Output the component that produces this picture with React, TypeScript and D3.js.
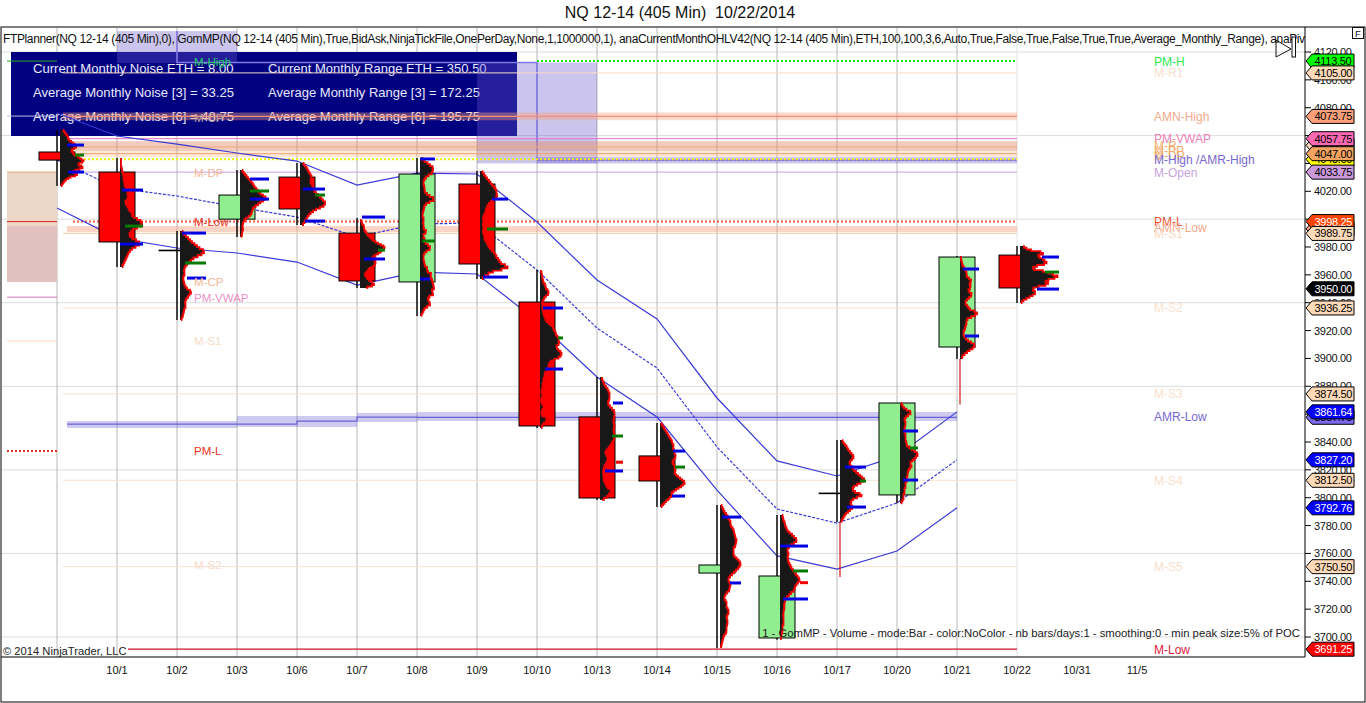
import React from "react";
import * as d3 from "d3";

const FONT = "'Liberation Sans', Arial, sans-serif";

const dayLabels = ["9/30","10/1","10/2","10/3","10/6","10/7","10/8","10/9","10/10","10/13","10/14","10/15","10/16","10/17","10/20","10/21","10/22","10/31","11/5"];
const priceTicks = [4120,4100,4080,4060,4040,4020,4000,3980,3960,3940,3920,3900,3880,3860,3840,3820,3800,3780,3760,3740,3720,3700];
const gridPrices = [4120,4060,4000,3940,3880,3820,3760,3700];

const opens  = [4048.2,4033.8,3977.8,4000.0,4030.2,3990.0,3954.9,4025.2,3940.5,3858.0,3830.0,3745.9,3699.3,3803.4,3802.0,3908.2,3974.2];
const highs  = [4064.0,4043.9,3991.5,4035.3,4040.3,4000.8,4043.9,4034.5,3963.5,3886.7,3853.6,3794.8,3787.6,3841.4,3868.0,3973.5,3980.7];
const lows   = [4023.8,3965.6,3927.6,3987.2,3995.8,3950.6,3930.5,3957.0,3850.0,3798.4,3793.3,3692.1,3698.0,3782.6,3796.0,3899.6,3939.8];
const closes = [4042.4,3983.6,3977.8,4017.3,4007.3,3955.6,4032.4,3967.8,3851.5,3799.8,3812.0,3751.7,3743.8,3803.4,3868.0,3972.8,3950.6];

const profileTops = [4064.0,4043.9,3991.5,4035.3,4040.3,4000.0,4043.9,4034.5,3963.5,3886.7,3853.6,3794.8,3787.6,3841.4,3868.0,3973.5,3980.7];
const profileBottoms = [4023.8,3965.6,3927.6,3987.2,3995.8,3950.6,3930.5,3957.0,3850.0,3798.4,3793.3,3692.1,3698.0,3782.6,3796.0,3899.6,3939.8];
const profileTails = [null,null,null,null,null,null,null,null,null,null,null,null,null,3743.0,null,3867.0,null];
const profileVolumes: number[][] = [
  [3,4,5,6,7,8,8,9,10,12,14,15,17,15,13,11,12,14,13,17,19,20,23,24,20,18,19,24,21,18,13,12,16,18,12,9,7,5,4,3,2,1],
  [1,1,1,1,1,2,2,3,3,4,3,5,4,5,6,7,8,7,9,8,6,5,7,8,9,10,13,11,16,18,23,21,20,14,12,10,9,11,14,18,20,18,13,11,9,8,7,6,5,4,3,2],
  [2,3,5,7,9,11,13,16,18,21,25,23,20,15,12,10,8,6,5,4,4,5,4,3,3,4,4,5,6,8,12,10,9,7,6,5,5,6,5,4,4,3,3,2,1],
  [2,3,4,6,7,9,10,12,13,14,15,17,18,20,21,25,26,24,22,19,17,14,13,12,12,11,10,7,5,4,3,3,2,3,3,2,2,2,1],
  [3,4,6,7,8,9,10,11,12,11,10,11,12,13,13,14,15,17,19,21,22,24,26,24,23,17,15,11,10,8,7,6,5,4,2],
  [1,1,2,2,3,4,4,4,5,6,7,8,9,11,12,15,16,20,22,25,24,22,21,20,16,15,12,13,14,15,16,14,15,11,9,8,7,5,5,6,7,8,10,12,13,15,9,6],
  [1,3,6,9,11,14,12,13,10,7,5,4,3,4,4,5,4,6,8,11,15,12,7,5,4,4,3,3,2,3,4,3,3,4,3,5,7,4,3,4,5,4,7,9,11,8,5,4,3,4,3,5,4,6,8,6,10,12,9,13,11,14,12,15,13,11,14,12,7,9,8,11,9,5,4,3,2,1],
  [2,3,5,6,8,10,11,13,15,16,17,16,18,14,12,10,8,7,6,6,5,4,3,3,4,3,3,4,3,3,4,5,4,6,7,8,9,11,13,15,16,17,19,20,22,28,27,16,10,7,4,2],
  [1,1,2,2,2,3,3,4,6,5,7,8,9,7,5,4,3,2,2,3,2,3,3,4,4,6,5,8,9,12,14,13,16,15,17,18,19,18,20,17,16,18,19,22,21,20,17,12,10,9,8,9,7,6,4,5,4,3,4,2,3,3,2,1,2,3,2,1,1,2,3,4,3,2,1,2,3,9,7,5,3,2,1],
  [2,2,3,4,5,7,8,9,10,9,10,8,8,9,11,13,15,14,15,13,14,13,15,14,14,13,15,14,15,13,12,11,9,8,5,6,7,8,7,7,5,4,4,3,3,4,3,4,5,6,7,9,12,10,8,6,2],
  [1,2,3,4,5,6,7,8,9,10,11,12,12,13,14,13,13,15,14,15,16,15,14,13,12,14,15,14,15,16,14,15,17,19,21,23,25,24,22,20,17,15,12,11,13,10,9,7,5,4,2,1],
  [1,2,3,4,5,7,8,9,10,11,10,12,13,14,14,15,15,16,17,15,16,14,13,14,13,14,15,18,19,21,20,19,17,15,13,11,9,8,9,10,11,9,10,8,6,5,4,5,6,7,6,7,8,9,8,7,6,8,7,8,6,7,6,7,5,4,3,3,2,2,1,1],
  [2,3,3,4,5,5,6,7,8,11,13,15,17,16,12,10,8,7,8,9,7,8,8,9,10,11,12,14,15,17,18,20,19,17,16,14,15,12,10,8,6,5,5,4,4,5,3,4,3,3,4,3,4,3,2,3,2,2,1,1,1],
  [2,3,4,6,7,8,9,11,12,14,13,11,10,9,11,12,13,15,17,19,21,23,25,22,19,15,13,12,14,16,23,20,14,12,11,10,12,13,11,9,7,5,4,3,2,1],
  [1,2,3,5,8,12,9,7,5,4,6,5,6,4,5,4,5,6,5,6,5,7,6,8,11,13,16,18,17,15,14,11,10,11,12,8,9,7,8,7,6,7,6,5,6,5,4,5,4,3,4,3,2,1],
  [1,1,1,2,2,3,4,5,6,7,6,8,10,12,9,10,11,9,8,11,12,10,8,6,5,6,8,9,11,18,16,14,8,7,6,7,5,6,4,4,3,4,5,7,9,13,15,14,11,8,6,3,2,2],
  [3,5,8,14,27,19,17,22,24,25,28,20,14,12,16,30,27,39,36,33,24,27,29,22,15,12,14,16,14,11,8,5,2,1],
];

// day index, price, volume start, volume end
const valueAreaMarks: [number,number,number,number][] = [
  [0,4053.2,7,24],[0,4033.8,8,24],[1,4020.9,2,23],[1,3982.1,0,23],[2,3990.0,2,26],[2,3957.7,7,26],
  [3,4028.8,10,29],[3,4014.4,10,29],[4,4021.6,3,25],[4,3998.6,5,25],[5,4001.5,2,25],[5,3971.4,4,25],
  [6,4043.2,0,15],[6,3957.0,0,10],[7,4014.4,12,28],[7,3958.4,3,28],[8,3936.2,3,23],[8,3892.4,5,23],
  [9,3868.0,13,23],[9,3819.2,5,23],[10,3833.5,13,25],[10,3801.2,12,25],[11,3786.1,2,21],[11,3738.8,10,21],
  [12,3765.3,0,28],[12,3727.3,3,28],[13,3822.0,5,26],[13,3793.3,7,26],[14,3847.9,3,18],[14,3812.7,3,18],
  [15,3964.2,3,19],[15,3916.1,5,19],[16,3972.8,22,39],[16,3949.8,17,39],
];
const pocMarks: [number,number,number,number][] = [
  [0,4046.0,15,24],[1,3995.0,5,23],[2,3968.5,5,26],[3,4020.2,10,29],[4,4017.3,15,25],[5,3977.8,18,25],
  [6,3984.3,2,15],[7,3992.9,7,28],[8,3914.7,18,23],[9,3844.3,12,23],[10,3822.0,15,25],[12,3747.4,13,28],
  [13,3812.0,20,26],[14,3835.7,10,18],[16,3962.0,25,39],
];
const peakMarks: [number,number,number,number][] = [[9,3825.5,16,23],[12,3739.0,20,28]];

const upperBand = [4076.2,4059.7,4053.9,4047.5,4041.7,4024.5,4033.1,4032.4,3997.9,3956.3,3928.3,3871.6,3826.4,3815.6,3830.0,3861.64];
const middleBand = [4042.4,4022.3,4016.6,4008.7,4001.5,3987.2,3996.5,3997.2,3963.5,3921.8,3893.1,3836.4,3791.9,3781.8,3796.2,3827.2];
const lowerBand = [4008.0,3986.4,3979.3,3975.7,3969.2,3952.7,3962.0,3960.6,3926.9,3886.7,3857.9,3805.5,3758.2,3748.8,3761.7,3792.76];

const amrLowLine = [3852.9,3852.9,3852.9,3852.9,3855.0,3857.9,3857.75,3857.75,3857.75,3857.75,3857.75,3857.75,3857.75,3857.75,3857.75,3857.75];
const amrLowTop = [3855.0,3855.0,3855.0,3858.7,3858.7,3860.8,3861.5,3861.5,3861.5,3861.5,3861.5,3861.5,3861.5,3861.5,3861.5,3861.5];
const amrLowBottom = [3850.0,3850.0,3850.0,3850.8,3850.8,3854.3,3855.0,3855.0,3855.0,3855.0,3855.0,3855.0,3855.0,3855.0,3855.0,3855.0];

const levelPrices = [4105,4057.75,4051.8,4047,4033.75,3989.75,3936.25,3874.5,3812.5,3750.5];
const levelColors = ["#F6DCC8","#E070C0","#F0A878","#F0A070","#C8A0DC","#F8CFA8","#F8E0CC","#F8E0CC","#F8E0CC","#F8E0CC"];

const panelLeft = ["Current Monthly Noise ETH = 8.00","Average Monthly Noise [3] = 33.25","Average Monthly Noise [6] = 48.75"];
const panelRight = ["Current Monthly Range ETH = 350.50","Average Monthly Range [3] = 172.25","Average Monthly Range [6] = 195.75"];

const leftLabels = ["M-High","M-CP","M-DP","M-Low","M-CP","PM-VWAP","M-S1","PM-L","M-S2"];
const leftLabelPrices = [4113.0,4072.6,4033.0,3998.0,3955.0,3943.5,3912.5,3833.5,3752.0];
const leftLabelColors = ["#22CC66","#C0A0A0","#F2B898","#E83020","#F2B898","#F090C8","#F6DCC8","#E83020","#F6DCC8"];

const rightLabels = ["PM-H","M-R1","AMN-High","PM-VWAP","M-R","M-PP","M-DP","M-High /AMR-High","M-Open","PM-L","AMN-Low","M-S1","M-S2","M-S3","AMR-Low","M-S4","M-S5","M-Low"];
const rightLabelPrices = [4113.5,4105,4073.75,4057.75,4053,4049.5,4046,4042.5,4033.75,3998.25,3994,3989.75,3936.25,3874.5,3858.25,3812.5,3750.5,3691.25];
const rightLabelColors = ["#30E850","#FAE0CC","#F4A88C","#F080B8","#F4B070","#F0A868","#F0A868","#7868D0","#C8A4DC","#E85838","#F4A88C","#FAD8C0","#FAE0CC","#FAE0CC","#7868D0","#FAE0CC","#FAE0CC","#DC2040"];

const tagPrices = [4113.5,4105,4073.75,4053,4043,4057.75,4047,4033.75,3993,3998.25,3989.75,3950,3936.25,3874.5,3857.75,3861.64,3827.2,3812.5,3792.76,3750.5,3691.25];
const tagFills = ["#00FF00","#FFDAB9","#FFA07A","#FFDAB9","#FFFF00","#FF69B4","#F4A460","#CC99DD","#FFA07A","#FF4500","#FFDAB9","#000000","#FFDAB9","#FFDAB9","#7B68EE","#0000FF","#0000FF","#FFDAB9","#0000FF","#FFDAB9","#FF0000"];
const tagTexts = ["#000","#000","#000","#000","#000","#000","#000","#000","#000","#fff","#000","#fff","#000","#000","#000","#fff","#fff","#000","#fff","#000","#fff"];

const yScale = d3.scaleLinear().domain([3700, 4120]).range([637, 52]);
const xScale = d3.scalePoint<string>().domain(dayLabels).range([57, 1137]);
const volScale = d3.scaleLinear().domain([0, 40]).range([0, 40]);
const xOf = (i: number) => xScale(dayLabels[i]) as number;
const BODY = 36;
const plotRight = 1305;
const plotBottom = 657;
const gridEnd = xOf(16);
const levelStart = xOf(0) + 6;

const bandLine = d3.line<number>().x((_, i) => xOf(i)).y((d) => yScale(d));

function rows(i: number) {
  const v = profileVolumes[i];
  const s = d3.scaleLinear().domain([0, v.length - 1]).range([yScale(profileTops[i]), yScale(profileBottoms[i])]);
  return v.map((w, k) => ({ w, y: s(k) }));
}

export default function App() {
  const amrArea = d3.area<number>().x((_, i) => xOf(i)).y0((_, i) => yScale(amrLowBottom[i])).y1((d) => yScale(d)).curve(d3.curveStepAfter);
  const amrLine = d3.line<number>().x((_, i) => xOf(i)).y((d) => yScale(d)).curve(d3.curveStepAfter);
  const lav = "rgba(106,90,205,0.35)";
  return (
    <svg width={1366} height={703} viewBox="0 0 1366 703" style={{ position: "absolute", left: 0, top: 0, display: "block", background: "#fff", fontFamily: FONT }}>
      <defs>
        <clipPath id="plot"><rect x={1} y={28} width={plotRight - 1} height={plotBottom - 28} /></clipPath>
        <clipPath id="amr"><rect x={levelStart + 4} y={28} width={gridEnd - levelStart - 4} height={600} /></clipPath>
      </defs>
      <text x={680} y={18} textAnchor="middle" fontSize={16} fill="#111" xmlSpace="preserve">{"NQ 12-14 (405 Min)  10/22/2014"}</text>

      {/* grid */}
      {gridPrices.map((p) => <line key={p} x1={1} x2={plotRight} y1={yScale(p)} y2={yScale(p)} stroke="#DCDCDC" />)}
      {dayLabels.slice(0, 17).map((d, i) => <line key={d} x1={xOf(i)} x2={xOf(i)} y1={28} y2={plotBottom} stroke={i === 16 ? "#E2E2E2" : "#B8B8B8"} />)}

      {/* stats panel */}
      <rect x={11} y={52} width={506} height={84} fill="#000080" />
      {panelLeft.map((t, i) => <text key={t} x={33} y={73 + i * 24} fontSize={13.1} fill="#E8E8FF">{t}</text>)}
      {panelRight.map((t, i) => <text key={t} x={268} y={73 + i * 24} fontSize={13} fill="#E8E8FF">{t}</text>)}

      <g clipPath="url(#plot)">
        {/* monthly range shading */}
        <rect x={xOf(1)} y={yScale(4135)} width={xOf(3) - xOf(1)} height={yScale(4112) - yScale(4135)} fill={lav} />
        <rect x={xOf(7)} y={yScale(4112.5)} width={xOf(9) - xOf(7)} height={yScale(4040) - yScale(4112.5)} fill={lav} />
        <rect x={xOf(8)} y={yScale(4044.5)} width={gridEnd - xOf(8)} height={yScale(4040) - yScale(4044.5)} fill={lav} />
        <path d={`M${xOf(2)},${yScale(4135)}V${yScale(4112.5)}H${xOf(8)}V${yScale(4042.3)}H${gridEnd}`} fill="none" stroke="#8078E4" strokeWidth={1.6} />

        {/* previous period */}
        <rect x={7} y={yScale(4033.8)} width={50} height={yScale(3995) - yScale(4033.8)} fill="#ECD7C6" />
        <rect x={7} y={yScale(3995)} width={50} height={yScale(3954.9) - yScale(3995)} fill="#E2C0BE" />
        <line x1={7} x2={57} y1={yScale(4033.8)} y2={yScale(4033.8)} stroke="#F0A878" />
        <line x1={7} x2={57} y1={yScale(3998.25)} y2={yScale(3998.25)} stroke="#D82020" />
        <line x1={7} x2={57} y1={yScale(4113.5)} y2={yScale(4113.5)} stroke="#22B022" />
        <line x1={7} x2={57} y1={yScale(3944)} y2={yScale(3944)} stroke="#D070C0" />
        <line x1={7} x2={57} y1={yScale(3912.5)} y2={yScale(3912.5)} stroke="#F8D8C0" />
        <line x1={7} x2={57} y1={yScale(3833.5)} y2={yScale(3833.5)} stroke="#E83020" strokeWidth={2} strokeDasharray="2 2" />
        <line x1={7} x2={57} y1={yScale(4074)} y2={yScale(4074)} stroke="#C0C0E0" />

        {/* level bands */}
        <rect x={levelStart} y={yScale(4076.6)} width={gridEnd - levelStart} height={yScale(4071) - yScale(4076.6)} fill="rgba(245,160,125,0.4)" />
        <rect x={levelStart} y={yScale(4056)} width={gridEnd - levelStart} height={yScale(4048.9) - yScale(4056)} fill="rgba(225,140,105,0.45)" />
        <rect x={levelStart} y={yScale(4048.9)} width={gridEnd - levelStart} height={yScale(4044.5) - yScale(4048.9)} fill="rgba(245,190,140,0.35)" />
        <rect x={levelStart + 4} y={yScale(3995)} width={gridEnd - levelStart - 4} height={yScale(3990.7) - yScale(3995)} fill="rgba(245,160,125,0.45)" />
        <line x1={levelStart} x2={gridEnd} y1={yScale(4073.75)} y2={yScale(4073.75)} stroke="#F4907A" strokeWidth={1.4} />
        {levelPrices.map((p, i) => <line key={p} x1={levelStart} x2={gridEnd} y1={yScale(p)} y2={yScale(p)} stroke={levelColors[i]} />)}
        <line x1={xOf(8)} x2={gridEnd} y1={yScale(4113.5)} y2={yScale(4113.5)} stroke="#00EE00" strokeWidth={2} strokeDasharray="2 2" />
        <line x1={xOf(0) + 23} x2={gridEnd} y1={yScale(4043)} y2={yScale(4043)} stroke="#F4F000" strokeWidth={2} strokeDasharray="2 2" />
        <line x1={levelStart + 10} x2={gridEnd} y1={yScale(3998.25)} y2={yScale(3998.25)} stroke="#EC5A40" strokeWidth={2} strokeDasharray="2 2" />
        <line x1={128} x2={gridEnd} y1={yScale(3691.25)} y2={yScale(3691.25)} stroke="#C81020" strokeWidth={1.2} />

        {/* AMR-Low */}
        <g clipPath="url(#amr)">
          <path d={amrArea(amrLowTop) as string} fill="rgba(106,90,205,0.32)" />
          <path d={amrLine(amrLowLine) as string} fill="none" stroke="#6A62D8" strokeWidth={1.2} />
        </g>

        {/* FTPlanner bands */}
        <path d={bandLine(upperBand) as string} fill="none" stroke="#3A3AD8" strokeWidth={1.2} />
        <path d={bandLine(middleBand) as string} fill="none" stroke="#3A3AD8" strokeWidth={1.2} strokeDasharray="3 1.5" />
        <path d={bandLine(lowerBand) as string} fill="none" stroke="#3A3AD8" strokeWidth={1.2} />

        {/* candles */}
        {opens.map((o, i) => {
          const x = xOf(i);
          const top = yScale(Math.max(o, closes[i]));
          const bot = yScale(Math.min(o, closes[i]));
          const doji = o === closes[i];
          return (
            <g key={i}>
              <line x1={x} x2={x} y1={yScale(highs[i])} y2={yScale(lows[i])} stroke="#000" strokeWidth={1.4} />
              <rect x={x - BODY / 2} y={top} width={BODY} height={Math.max(bot - top, doji ? 0.8 : 1)} fill={closes[i] >= o ? "#90EE90" : "#FF0000"} stroke="#000" strokeWidth={doji ? 0.8 : 1} />
            </g>
          );
        })}

        {/* volume profiles */}
        {profileVolumes.map((_, i) => {
          const x0 = xOf(i) + 3;
          const r = rows(i);
          const area = d3.area<{ w: number; y: number }>().y((d) => d.y).x0(x0).x1((d) => x0 + volScale(d.w)).curve(d3.curveStep);
          const edge = d3.line<{ w: number; y: number }>().y((d) => d.y).x((d) => x0 + volScale(d.w)).curve(d3.curveStep);
          const tail = profileTails[i];
          return (
            <g key={i}>
              <path d={area(r) as string} fill="#181818" />
              <path d={edge(r) as string} fill="none" stroke="#F00000" strokeWidth={1.8} />
              {tail !== null && <line x1={x0} x2={x0} y1={yScale(profileBottoms[i])} y2={yScale(tail)} stroke="#D01818" strokeWidth={1.2} />}
            </g>
          );
        })}
        {valueAreaMarks.map(([d, p, a, b], k) => <line key={k} x1={xOf(d) + 3 + volScale(a)} x2={xOf(d) + 3 + volScale(b)} y1={yScale(p)} y2={yScale(p)} stroke="#0000E0" strokeWidth={3} />)}
        {pocMarks.map(([d, p, a, b], k) => <line key={k} x1={xOf(d) + 3 + volScale(a)} x2={xOf(d) + 3 + volScale(b)} y1={yScale(p)} y2={yScale(p)} stroke="#007A00" strokeWidth={3} />)}
        {peakMarks.map(([d, p, a, b], k) => <line key={k} x1={xOf(d) + 3 + volScale(a)} x2={xOf(d) + 3 + volScale(b)} y1={yScale(p)} y2={yScale(p)} stroke="#F00000" strokeWidth={3} />)}

        {/* level names */}
        {leftLabels.map((t, i) => <text key={i} x={194} y={yScale(leftLabelPrices[i]) + 4} fontSize={11.5} fill={leftLabelColors[i]}>{t}</text>)}
        {rightLabels.map((t, i) => <text key={i} x={1154} y={yScale(rightLabelPrices[i]) + 4.5} fontSize={12} fill={rightLabelColors[i]}>{t}</text>)}
      </g>

      <text x={3} y={43} fontSize={12} fill="#111" clipPath="url(#plot)" textLength={1317} lengthAdjust="spacing">FTPlanner(NQ 12-14 (405 Min),0), GomMP(NQ 12-14 (405 Min),True,BidAsk,NinjaTickFile,OnePerDay,None,1,1000000,1), anaCurrentMonthOHLV42(NQ 12-14 (405 Min),ETH,100,100,3,6,Auto,True,False,True,False,True,True,Average_Monthly_Range), anaPivots</text>
      <text x={3} y={655} fontSize={11.2} fill="#222">© 2014 NinjaTrader, LLC</text>
      <text x={1300} y={637} textAnchor="end" fontSize={11.3} fill="#222">1 - GomMP - Volume - mode:Bar - color:NoColor - nb bars/days:1 - smoothing:0 - min peak size:5% of POC</text>

      {/* frame */}
      <rect x={1} y={27} width={1364} height={675} fill="none" stroke="#000" />
      <line x1={plotRight} x2={plotRight} y1={27} y2={plotBottom} stroke="#000" />
      <line x1={1} x2={plotRight} y1={plotBottom} y2={plotBottom} stroke="#000" />

      {/* x axis */}
      {dayLabels.slice(1).map((d, i) => <text key={d} x={xOf(i + 1)} y={674} textAnchor="middle" fontSize={11} fill="#111">{d}</text>)}

      {/* y axis */}
      {priceTicks.map((p) => (
        <g key={p}>
          <line x1={plotRight} x2={plotRight + 6} y1={yScale(p)} y2={yScale(p)} stroke="#000" />
          <text x={1314} y={yScale(p) + 4} fontSize={11} letterSpacing={-0.3} fill="#111">{d3.format(".2f")(p)}</text>
        </g>
      ))}
      {tagPrices.map((p, i) => {
        const y = yScale(p);
        const pts = [[1306, y], [1312, y - 7], [1354, y - 7], [1354, y + 7], [1312, y + 7]].map((q) => q.join(",")).join(" ");
        return (
          <g key={i}>
            <polygon points={pts} fill={tagFills[i]} stroke="#000" />
            <text x={1314.5} y={y + 4} fontSize={11} letterSpacing={-0.3} fill={tagTexts[i]}>{d3.format(".2f")(p)}</text>
          </g>
        );
      })}

      {/* chart trader icons */}
      <polygon points="1276,40 1291,49 1276,57" fill="none" stroke="#111" />
      <rect x={1292} y={37} width={3.5} height={20} fill="#fff" stroke="#111" />
      <rect x={1352.5} y={27.5} width={11} height={11} fill="#fff" stroke="#111" />
      <text x={1358} y={36.5} textAnchor="middle" fontSize={9.5} fill="#111">F</text>
    </svg>
  );
}
